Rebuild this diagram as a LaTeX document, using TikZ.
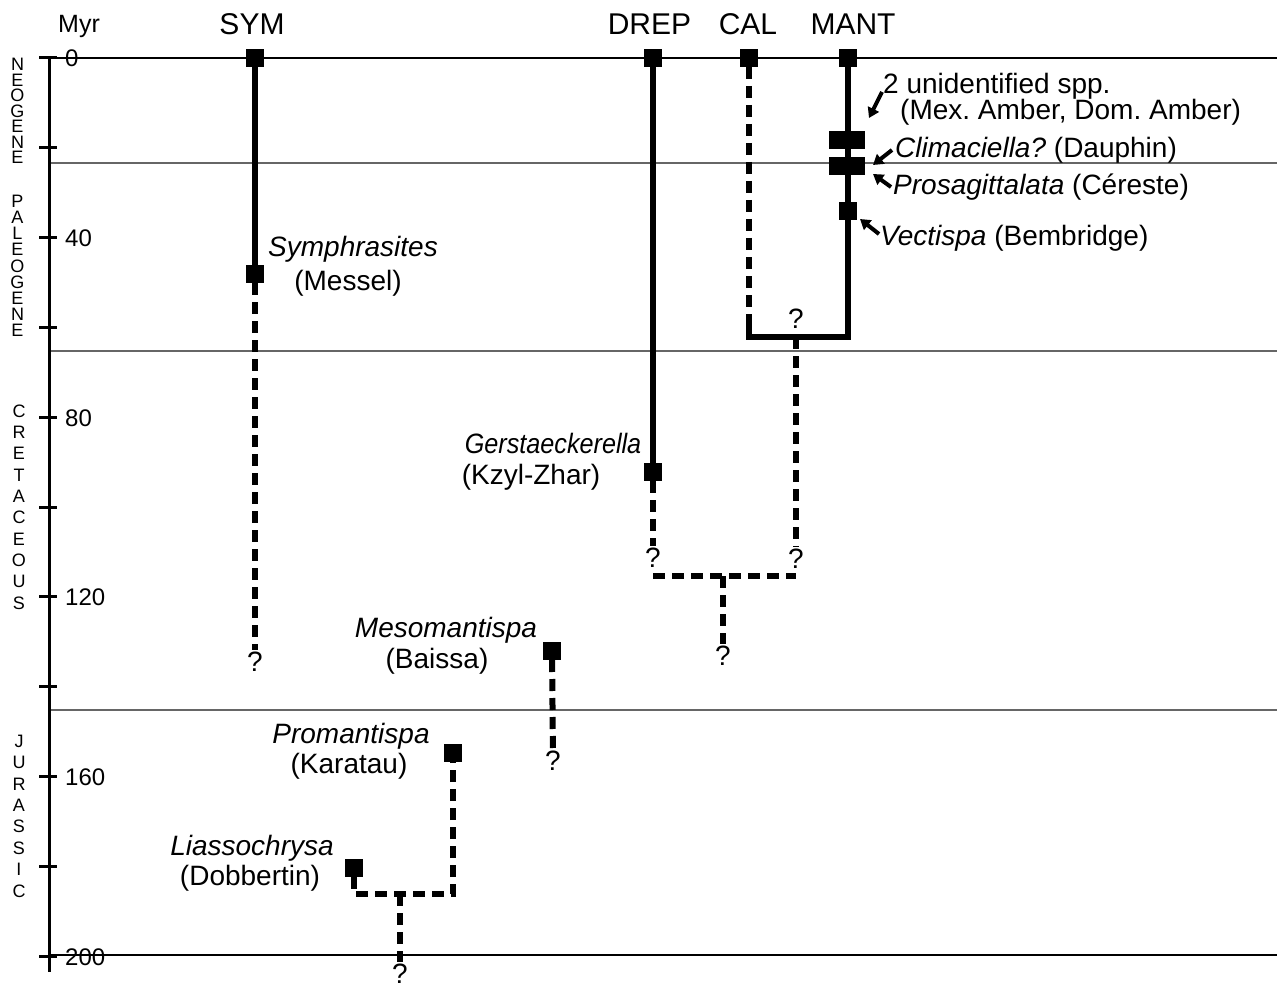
\documentclass[tikz,border=0pt]{standalone}
\usepackage{graphicx}
\usepackage{fontspec}
\setmainfont{Liberation Sans}
\usetikzlibrary{arrows.meta, calc, positioning}
\frenchspacing

\begin{document}
\begin{tikzpicture}[% styles used in the chart
         x = 1pt, y = -1pt,
fossil/.style = {rectangle, fill, minimum width=18pt, minimum height=18pt,
                 inner sep=0pt, outer sep=0pt},
wide fossil/.style = {fossil, minimum width=36pt},
lineage/.style = {line width=6pt},
ghost/.style = {line width=6pt, dash pattern=on 12pt off 7pt},
era line/.style = {draw=black!60, line width=1.2pt},
tick/.style = {line width=3pt},
pointer/.style = {line width=4pt, -{Triangle[length=10pt, width=12pt]}},
taxon/.style = {font=\fontsize{28}{28}\selectfont, inner sep=0pt, anchor=base},
clade/.style = {font=\fontsize{30}{30}\selectfont, inner sep=0pt, anchor=base},
qmark/.style = {font=\fontsize{28}{28}\selectfont, inner sep=1pt, anchor=base},
period/.style = {font=\fontsize{18}{#1}\selectfont, align=center, inner sep=0pt}
                    ]
\useasboundingbox (0,0) rectangle (1277,987);

	% time axis
	\draw[line width=3.5pt] (49.5,57) -- (49.5,972);
	\foreach \t in {0,20,...,200}
		\draw[tick] (39,58+4.49*\t) -- (57,58+4.49*\t);
	\foreach \t in {0,40,...,200}
		\node[font=\fontsize{24}{24}\selectfont, inner sep=0pt, anchor=base west]
			(age\t) at (65,67+4.49*\t) {\t};
	\node[font=\fontsize{25}{25}\selectfont, inner sep=0pt, anchor=base] (myr) at (79,33) {Myr};

	% period boundaries
	\draw[era line, draw=black] (57,58) -- (1277,58);
	\foreach \y in {163,351,710}
		\draw[era line] (51,\y) -- (1277,\y);
	\draw[era line, draw=black] (51,955) -- (1277,955);

	\node[period=15.5] (neogene)    at (17.5,111) {N\\E\\O\\G\\E\\N\\E};
	\node[period=16.2] (paleogene)  at (17.5,266) {P\\A\\L\\E\\O\\G\\E\\N\\E};
	\node[period=21.3] (cretaceous) at (19,507)   {C\\R\\E\\T\\A\\C\\E\\O\\U\\S};
	\node[period=21.4] (jurassic)   at (19,816)   {J\\U\\R\\A\\S\\S\\I\\C};

	% clades
	\node[clade] (sym)  at (252,35)   {SYM};
	\node[clade] (drep) at (649.5,35) {DREP};
	\node[clade] (cal)  at (748,35)   {CAL};
	\node[clade] (mant) at (853,35)   {MANT};

	% fossil records
	\node[fossil] (sym0)  at (255,58)  {};
	\node[fossil] (sym1)  at (255,274) {};
	\node[fossil] (drep0) at (653,58)  {};
	\node[fossil] (drep1) at (653,472) {};
	\node[fossil] (cal0)  at (749,58)  {};
	\node[fossil] (mant0) at (848,58)  {};
	\node[wide fossil] (mant1) at (847,140) {};
	\node[wide fossil] (mant2) at (847,166) {};
	\node[fossil] (mant3) at (848,211) {};
	\node[fossil] (meso)   at (552,651) {};
	\node[fossil] (proman) at (453,753) {};
	\node[fossil] (liass)  at (354,868) {};

	% fossil names
	\node[taxon] (symN)  at (353,257) {\textit{Symphrasites}};
	\node[taxon] (symL)  at (348,290) {(Messel)};
	\node[taxon] (drepN) at (553,453) {\scalebox{0.9}[1]{\textit{Gerstaeckerella}}};
	\node[taxon] (drepL) at (531,484) {(Kzyl-Zhar)};
	\node[taxon] (mesoN) at (446,637) {\textit{Mesomantispa}};
	\node[taxon] (mesoL) at (437,668) {(Baissa)};
	\node[taxon] (promN) at (351,743) {\textit{Promantispa}};
	\node[taxon] (promL) at (349,773) {(Karatau)};
	\node[taxon] (liasN) at (252,855) {\textit{Liassochrysa}};
	\node[taxon] (liasL) at (250,885) {(Dobbertin)};
	\node[taxon, anchor=base west] (unid)  at (883,94)  {2 unidentified spp.};
	\node[taxon, anchor=base west] (unidL) at (900,120) {(Mex. Amber, Dom. Amber)};
	\node[taxon, anchor=base west] (clim)  at (895,158) {\textit{Climaciella?} (Dauphin)};
	\node[taxon, anchor=base west] (pros)  at (893,195) {\textit{Prosagittalata} (Céreste)};
	\node[taxon, anchor=base west] (vect)  at (880,245) {\textit{Vectispa} (Bembridge)};

	% question marks
	\node[qmark] (symq)   at (255,671) {?};
	\node[qmark] (drepq)  at (653,567) {?};
	\node[qmark] (calq)   at (796,568) {?};
	\node[qmark] (crownq) at (796,328) {?};
	\node[qmark] (dcq)    at (723,665) {?};
	\node[qmark] (mesoq)  at (553,770) {?};
	\node[qmark] (rootq)  at (400,983) {?};

	\coordinate (crown) at (796,337);
	\coordinate (calbend) at (749,326);
	\coordinate (dc) at (723,576);
	\coordinate (jbase) at (400,894);

	% ranges and ghost lineages
	\draw[lineage] (sym0) -- (sym1);
	\draw[ghost] (sym1) -- (symq);
	\draw[lineage] (drep0) -- (drep1);
	\draw[ghost] (drep1) -- (drepq);
	\draw[ghost] (cal0) -- (calbend);
	\draw[lineage] (calbend) -- (calbend |- crown) -- (mant0 |- crown) -- (mant0);
	\draw[ghost] (crown) -- (calq);
	\draw[ghost] (drepq |- dc) -- (calq |- dc);
	\draw[ghost] (dc) -- (dcq);
	\draw[ghost] (meso) -- (mesoq);
	\draw[ghost] (liass) -- (liass |- jbase) -- (proman |- jbase) -- (proman);
	\draw[ghost] (jbase) -- (rootq);

	% pointers to the mantispid fossils
	\coordinate (unidA) at (882,92);  \coordinate (unidB) at (869,118);
	\coordinate (climA) at (892,150); \coordinate (climB) at (873,165);
	\coordinate (prosA) at (891,187); \coordinate (prosB) at (873,174);
	\coordinate (vectA) at (879,234); \coordinate (vectB) at (860,219);
	\draw[pointer] (unidA) -- (unidB);
	\draw[pointer] (climA) -- (climB);
	\draw[pointer] (prosA) -- (prosB);
	\draw[pointer] (vectA) -- (vectB);
\end{tikzpicture}
\end{document}
